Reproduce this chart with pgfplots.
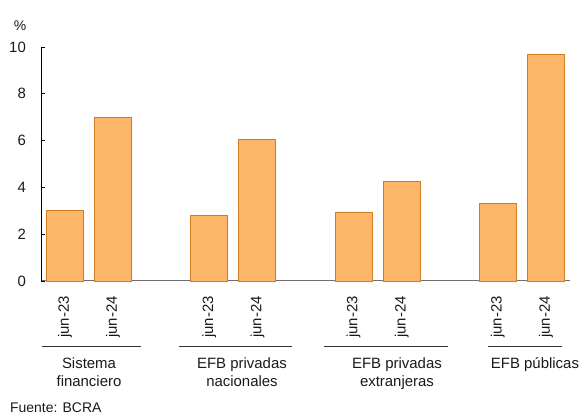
\documentclass[border=0pt]{standalone}
\usepackage{fontspec}
\setmainfont{Liberation Sans}
\usepackage{pgfplots}
\pgfplotsset{compat=1.18}
\definecolor{barfill}{RGB}{253,182,104}
\definecolor{baredge}{RGB}{210,124,36}
\begin{document}
\fontsize{15}{18}\selectfont
\begin{tikzpicture}[x=1bp,y=1bp]
\begin{axis}[
  at={(0,0)}, anchor=south west,
  scale only axis, width=529bp, height=234bp,
  xmin=-0.5, xmax=10.5, ymin=0, ymax=10,
  axis x line*=bottom, axis y line*=left,
  x axis line style={draw={rgb,255:red,110;green,110;blue,110}, line width=1pt},
  y axis line style={draw=black, line width=0.8pt},
  ytick={0,2,...,10},
  xtick={0,1,3,4,6,7,9,10},
  xticklabels={jun-23,jun-24,jun-23,jun-24,jun-23,jun-24,jun-23,jun-24},
  xticklabel style={rotate=90, anchor=east},
  xticklabel shift=6bp,
  yticklabel shift=10bp,
  major x tick style={draw=none},
  tick align=inside, major tick length=4bp,
  major y tick style={draw=black, line width=0.8pt},
  /pgf/number format/assume math mode=true,
  ticklabel style={font=\fontsize{15}{18}\selectfont, text=black!90},
  ybar, bar width=37bp, bar shift=0pt,
  clip=false,
]
\addplot[fill=barfill, draw=baredge, line width=0.9pt] coordinates {(0,3.0) (1,6.97) (3,2.82) (4,6.03) (6,2.95) (7,4.27) (9,3.33) (10,9.70)};
\end{axis}
\begin{scope}[line width=0.8pt, draw=black!80]
\draw (0.7,-65) -- (99.7,-65);
\draw (138,-65) -- (251,-65);
\draw (283,-65) -- (407,-65);
\draw (447,-65) -- (521,-65);
\end{scope}
\begin{scope}[every node/.style={inner sep=0pt, align=center, anchor=north, text=black!90, font=\fontsize{15}{18.5}\selectfont}]
\node at (48,-76) {Sistema\\financiero};
\node at (201,-76) {EFB privadas\\nacionales};
\node at (356,-76) {EFB privadas\\extranjeras};
\node at (494,-76) {EFB públicas};
\end{scope}
\node[inner sep=0pt, anchor=base west, text=black!90, font=\fontsize{14}{17}\selectfont] at (-31,-131.5) {Fuente: BCRA};
\node[inner sep=0pt, text=black!90, font=\fontsize{14}{17}\selectfont] at (-21,255) {\%};
\path[use as bounding box] (-41,-133) rectangle (538,281);
\end{tikzpicture}
\end{document}
